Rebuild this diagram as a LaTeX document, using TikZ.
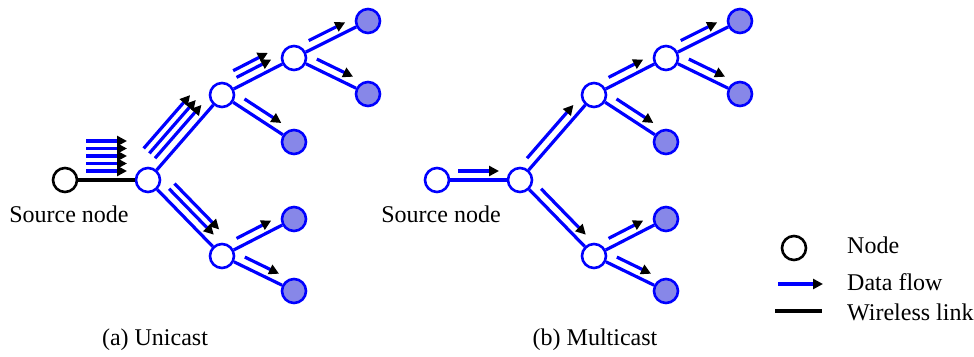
\documentclass[tikz,border=0pt]{standalone}
\usepackage{fontspec}
\setmainfont{Liberation Serif}
\usetikzlibrary{arrows.meta,calc}

\definecolor{leafblue}{RGB}{135,135,232}

\tikzset{
  station/.style={circle,draw=blue,line width=2.6pt,fill=white,minimum size=24pt,inner sep=0pt},
  member/.style={station,fill=leafblue},
  origin/.style={station,draw=black},
  link/.style={draw=blue,line width=3.2pt},
  wlink/.style={draw=black,line width=3.2pt},
  flow/.style={draw=blue,line width=3.2pt,-{Triangle[length=10pt,width=10pt,color=black]}},
  lbl/.style={font=\fontsize{24}{28}\selectfont,inner sep=0pt}
}

% #3 parallel data flows on the left side of the link #1 -> #2
\newcommand{\flows}[3]{%
  \foreach \k in {1,...,#3}{%
    \pgfmathsetmacro{\off}{9+7.5*(\k-1)}
    \draw[flow] ($(#1)!21pt!(#2)!\off pt!90:(#2)$) -- ($(#2)!21pt!(#1)!\off pt!-90:(#1)$);
  }}

\begin{document}
\begin{tikzpicture}[x=1pt,y=-1pt]
\useasboundingbox (0,0) rectangle (974,356);

%Nodes: unicast tree
\node[origin] (us) at (65,180) {};
\node[station] (ur) at (148,180) {};
\node[station] (ua) at (222,95) {};
\node[station] (ub) at (294,58) {};
\node[station] (uc) at (222,256) {};
\node[member] (ul1) at (368,21) {};
\node[member] (ul2) at (368,94) {};
\node[member] (ul3) at (294,142) {};
\node[member] (ul4) at (294,219) {};
\node[member] (ul5) at (294,291) {};

%Nodes: multicast tree
\node[station] (ms) at (437,180) {};
\node[station] (mr) at (520,180) {};
\node[station] (ma) at (594,95) {};
\node[station] (mb) at (666,58) {};
\node[station] (mc) at (594,256) {};
\node[member] (ml1) at (740,21) {};
\node[member] (ml2) at (740,94) {};
\node[member] (ml3) at (666,142) {};
\node[member] (ml4) at (666,219) {};
\node[member] (ml5) at (666,291) {};

%Straight Lines: links
\draw[wlink] (us) -- (ur);
\draw[link] (ur) -- (ua);
\draw[link] (ur) -- (uc);
\draw[link] (ua) -- (ub);
\draw[link] (ua) -- (ul3);
\draw[link] (ub) -- (ul1);
\draw[link] (ub) -- (ul2);
\draw[link] (uc) -- (ul4);
\draw[link] (uc) -- (ul5);

\draw[link] (ms) -- (mr);
\draw[link] (mr) -- (ma);
\draw[link] (mr) -- (mc);
\draw[link] (ma) -- (mb);
\draw[link] (ma) -- (ml3);
\draw[link] (mb) -- (ml1);
\draw[link] (mb) -- (ml2);
\draw[link] (mc) -- (ml4);
\draw[link] (mc) -- (ml5);

%Arrows: one copy per receiver
\flows{us}{ur}{5}
\flows{ur}{ua}{3}
\flows{ur}{uc}{2}
\flows{ua}{ub}{2}
\flows{ua}{ul3}{1}
\flows{ub}{ul1}{1}
\flows{ub}{ul2}{1}
\flows{uc}{ul4}{1}
\flows{uc}{ul5}{1}

%Arrows: one copy per link
\flows{ms}{mr}{1}
\flows{mr}{ma}{1}
\flows{mr}{mc}{1}
\flows{ma}{mb}{1}
\flows{ma}{ml3}{1}
\flows{mb}{ml1}{1}
\flows{mb}{ml2}{1}
\flows{mc}{ml4}{1}
\flows{mc}{ml5}{1}

% Text Node
\node[lbl,anchor=base] (usrc) at (69,222) {Source node};
% Text Node
\node[lbl,anchor=base] (msrc) at (441,222) {Source node};
% Text Node
\node[lbl,anchor=base] (capa) at (155,345) {(a) Unicast};
% Text Node
\node[lbl,anchor=base] (capb) at (595,345) {(b) Multicast};

%Legend
\node[origin] (keynode) at (794,248) {};
\coordinate (kf1) at (778,284);
\coordinate (kf2) at (823,284);
\coordinate (kw1) at (775,311);
\coordinate (kw2) at (822,311);
\draw[flow] (kf1) -- (kf2);
\draw[wlink] (kw1) -- (kw2);
% Text Node
\node[lbl,anchor=base west] (keytxt1) at (847,253) {Node};
% Text Node
\node[lbl,anchor=base west] (keytxt2) at (847,290) {Data flow};
% Text Node
\node[lbl,anchor=base west] (keytxt3) at (847,320) {Wireless link};

\end{tikzpicture}
\end{document}
